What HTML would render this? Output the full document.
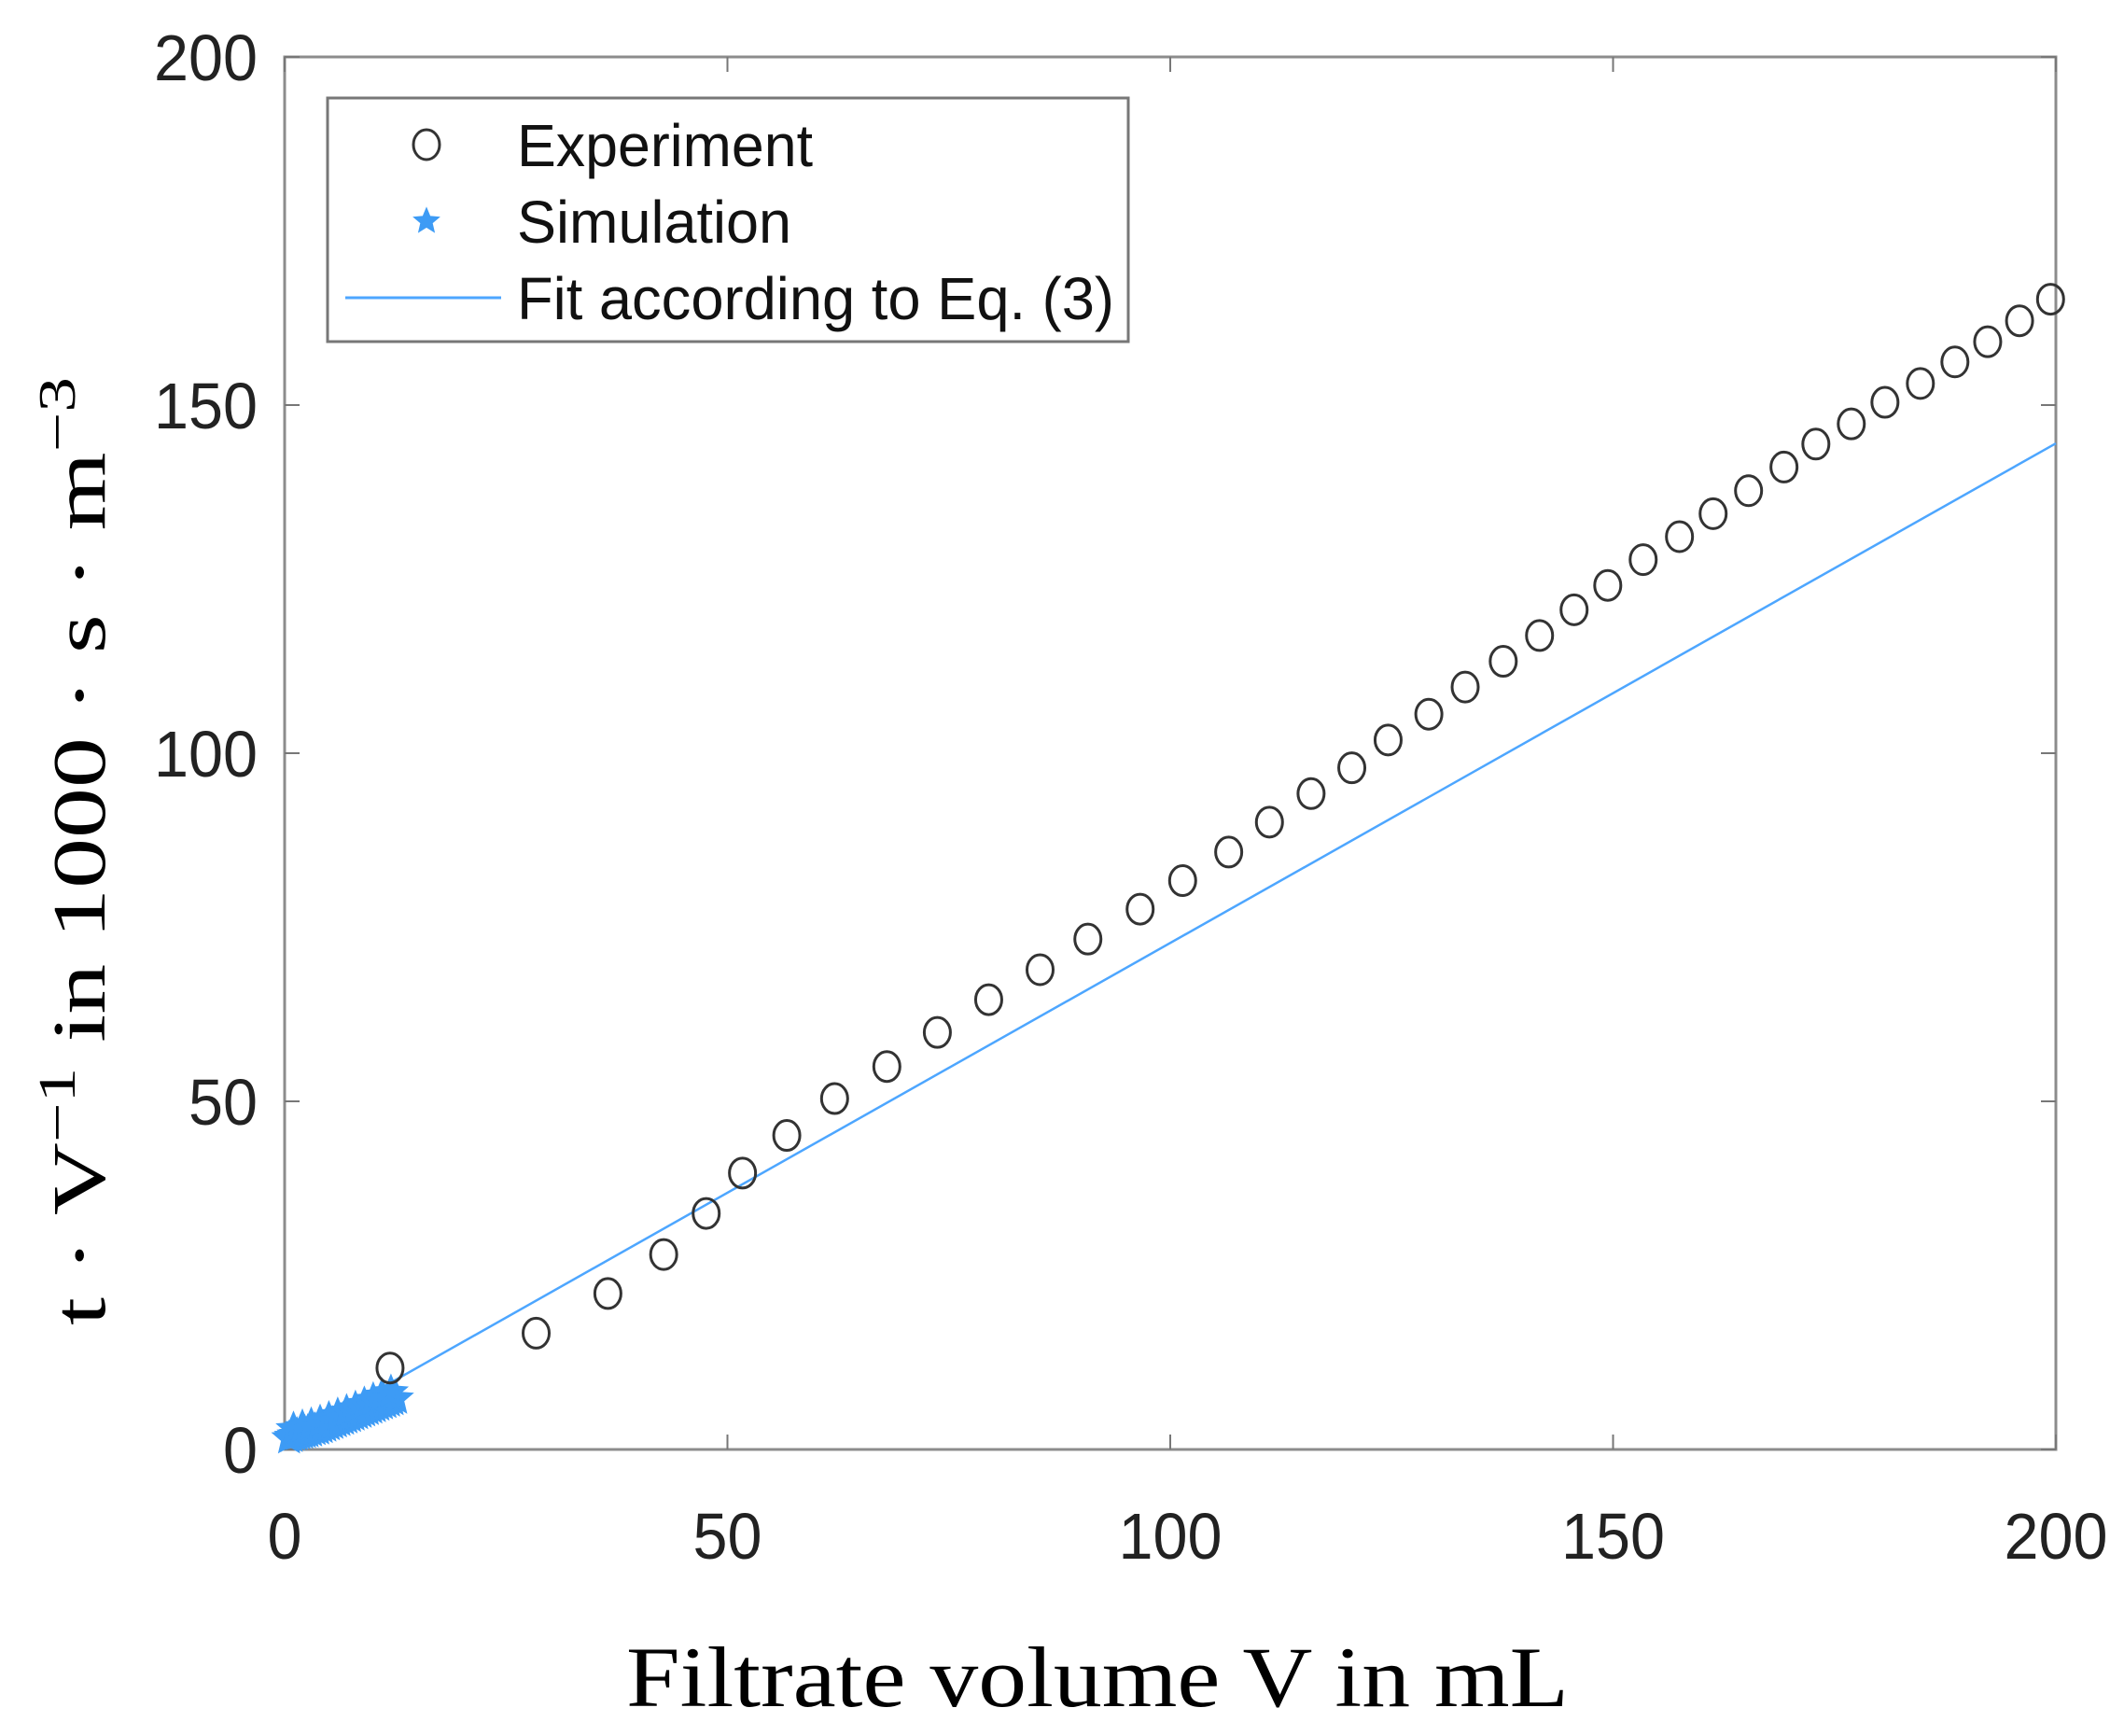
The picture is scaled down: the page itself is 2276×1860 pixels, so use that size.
<!DOCTYPE html>
<html><head><meta charset="utf-8"><style>
html,body{margin:0;padding:0;background:#fff;}
svg{display:block;}
</style></head><body>
<svg id="chart" width="2276" height="1860" viewBox="0 0 2276 1860" xmlns="http://www.w3.org/2000/svg">
<rect x="0" y="0" width="2276" height="1860" fill="#fff"/>
<g id="plot"></g>
</svg>
<script>
const expX = [11.9,28.4,36.5,42.8,47.6,51.7,56.7,62.1,68,73.7,79.5,85.3,90.7,96.6,101.4,106.6,111.2,115.9,120.5,124.6,129.2,133.3,137.6,141.7,145.6,149.4,153.4,157.5,161.3,165.3,169.3,172.9,176.9,180.7,184.7,188.6,192.3,195.9,199.4];
const expY = [11.7,16.7,22.4,28,33.9,39.7,45.1,50.4,55,59.9,64.6,68.9,73.3,77.6,81.7,85.8,90.1,94.2,97.9,101.9,105.6,109.5,113.2,116.9,120.6,124.1,127.8,131.1,134.4,137.7,141.1,144.4,147.3,150.4,153.1,156.2,159.1,162.1,165.2];
const simX = [0.5,0.8,1.1,1.4,1.7,2,2.3,2.6,3,3.4,3.8,4.2,4.6,5,5.4,5.8,6.2,6.6,7,7.4,7.8,8.2,8.6,9,9.4,9.8,10.2,10.6,11,11.4,11.8,12.2,12.6,1.0,2.0,3.0,4.0,5.0,6.0,7.0,8.0,9.0,10.0,11.0,12.0];
const simY = [1.6,1.8,2,2.1,2.2,2.3,2.4,2.5,2.6,2.8,2.9,3.1,3.3,3.5,3.7,3.9,4.1,4.3,4.5,4.7,4.9,5.1,5.3,5.5,5.7,5.9,6.1,6.3,6.5,6.7,6.9,7.1,7.3,2.9,3.2,3.5,3.9,4.4,4.9,5.4,5.9,6.5,7.1,7.7,8.2];
const fitX = [0,200];
const fitY = [1,144.5];
const xTicks = [0,50,100,150,200];
const yTicks = [0,50,100,150,200];

const NS='http://www.w3.org/2000/svg';
const L=305,R=2203,T=61,B=1553;
const sx=v=>L+(v-0)/(200-0)*(R-L);
const sy=v=>B-(v-0)/(200-0)*(B-T);
const g=document.getElementById('plot');
function mk(tag,attrs,parent){const e=document.createElementNS(NS,tag);for(const k in attrs)e.setAttribute(k,attrs[k]);(parent||g).appendChild(e);return e;}

const box=mk('rect',{x:L,y:T,width:R-L,height:B-T,fill:'none',stroke:'#8c8c8c','stroke-width':3});



xTicks.forEach(v=>{
  const t1=mk('line',{x1:sx(v),x2:sx(v),y1:B,y2:B-16,stroke:'#777','stroke-width':2});
  
  
  const t2=mk('line',{x1:sx(v),x2:sx(v),y1:T,y2:T+16,stroke:'#777','stroke-width':2});
  
  
  const s=String(v);
  const lb=mk('text',{x:sx(v),y:1670,'text-anchor':'middle','font-family':'Liberation Sans, sans-serif','font-size':70,fill:'#222',textLength:37*s.length,lengthAdjust:'spacingAndGlyphs'});
  lb.textContent=s;
  
  
});
yTicks.forEach(v=>{
  const t1=mk('line',{x1:L,x2:L+16,y1:sy(v),y2:sy(v),stroke:'#777','stroke-width':2});
  
  
  const t2=mk('line',{x1:R,x2:R-16,y1:sy(v),y2:sy(v),stroke:'#777','stroke-width':2});
  
  
  const s=String(v);
  const lb=mk('text',{x:276,y:sy(v)+25,'text-anchor':'end','font-family':'Liberation Sans, sans-serif','font-size':70,fill:'#222',textLength:37*s.length,lengthAdjust:'spacingAndGlyphs'});
  lb.textContent=s;
  
  
});

const fl=mk('line',{x1:sx(fitX[0]),y1:sy(fitY[0]),x2:sx(fitX[1]),y2:sy(fitY[1]),stroke:'#4da6ff','stroke-width':2.5});



function star(cx,cy,r){let p=[];for(let i=0;i<10;i++){const a=-Math.PI/2+i*Math.PI/5;const rr=i%2?r*0.45:r;p.push((cx+rr*Math.cos(a)).toFixed(1)+','+(cy+rr*Math.sin(a)).toFixed(1));}return p.join(' ');}
simX.forEach((x,i)=>{
  const s=mk('polygon',{points:star(sx(x),sy(simY[i]),15),fill:'#3d9bf5',stroke:'#3d9bf5','stroke-width':4});
  
  
});
expX.forEach((x,i)=>{
  const c=mk('ellipse',{cx:sx(x),cy:sy(expY[i]),rx:14,ry:16,fill:'none',stroke:'#333','stroke-width':3});
  
  
});

const lg=mk('g',{});


mk('rect',{x:351,y:105,width:858,height:261,fill:'#fff',stroke:'#777','stroke-width':3},lg);
const le1=mk('ellipse',{cx:457,cy:155,rx:14,ry:16,fill:'none',stroke:'#333','stroke-width':3},lg);


const le2=mk('polygon',{points:star(457,237,13),fill:'#3d9bf5',stroke:'#3d9bf5','stroke-width':2},lg);


const le3=mk('line',{x1:370,x2:537,y1:319,y2:319,stroke:'#4da6ff','stroke-width':3},lg);


[['Experiment',178,317],['Simulation',260,294],['Fit according to Eq. (3)',342,640]].forEach(([t,y,w])=>{
  const e=mk('text',{x:554,y:y,'font-family':'Liberation Sans, sans-serif','font-size':64,fill:'#111',textLength:w,lengthAdjust:'spacingAndGlyphs'},lg);
  e.textContent=t;
  
  
});

const xt=mk('text',{x:1176,y:1828,'text-anchor':'middle','font-family':'Liberation Serif, serif','font-size':92,fill:'#000',textLength:1010,lengthAdjust:'spacingAndGlyphs'});
xt.textContent='Filtrate volume V in mL';



const yt=mk('text',{x:0,y:0,'text-anchor':'middle','font-family':'Liberation Serif, serif','font-size':80,fill:'#000',transform:'translate(112,912) rotate(-90)',textLength:1016,lengthAdjust:'spacingAndGlyphs'});
yt.innerHTML='t · V<tspan dy="-32" font-size="56">−1</tspan><tspan dy="32"> in 1000 · s · m</tspan><tspan dy="-32" font-size="56">−3</tspan>';


</script>
</body></html>
